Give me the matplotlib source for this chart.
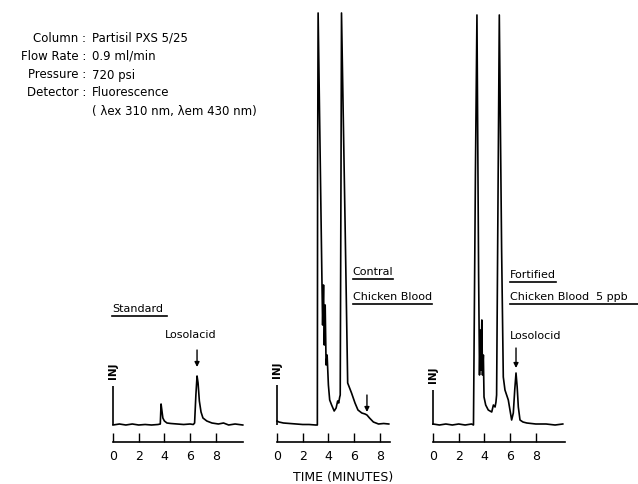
"""
HPLC chromatograms of lasalocid in chicken blood (three traces).
"""

import matplotlib
matplotlib.use('Agg')
import matplotlib.pyplot as plt
from matplotlib.lines import Line2D
from matplotlib.transforms import IdentityTransform

# ---- data (time in minutes, detector response in arbitrary units) ----
std_time = [0, 0.5, 1.0, 1.5, 2.0, 2.5, 3.0, 3.5, 3.68, 3.74, 3.8, 3.88, 4.0, 4.2,
            4.5, 5.0, 5.5, 6.0, 6.25, 6.35, 6.45, 6.54, 6.62, 6.72, 6.85, 7.0,
            7.3, 7.7, 8.2, 8.6, 9.0, 9.5, 10.1]
std_resp = [0, 1, 0, 1, 0, 0.5, 0, 0.5, 1, 21, 15, 7, 4, 2,
            1.5, 1, 0.5, 1, 0.5, 2, 30, 49, 42, 24, 13, 7,
            4, 2, 1, 2, 0, 1, 0]

ctrl_time = [0, 0.15, 0.5, 1.0, 1.5, 2.0, 2.5, 3.0, 3.14, 3.16, 3.2, 3.5, 3.55,
             3.62, 3.68, 3.75, 3.82, 3.9, 4.0, 4.1, 4.25, 4.45, 4.6, 4.72, 4.8,
             4.88, 4.92, 4.98, 5.02, 5.3, 5.5, 5.8, 6.07, 6.3, 6.6, 6.85, 7.0,
             7.2, 7.5, 7.9, 8.3, 8.7]
ctrl_resp = [4, 3, 2, 1.5, 1, 0.5, 0.5, 0, 0, 250, 412, 142, 100,
             140, 80, 120, 60, 70, 40, 25, 20, 14, 17, 24, 22,
             28, 30, 250, 412, 200, 42, 32, 22, 15, 12, 11, 10,
             7, 3, 1, 1.5, 1]

fort_time = [0, 0.5, 1.0, 1.5, 2.0, 2.5, 3.0, 3.15, 3.3, 3.42, 3.55, 3.62, 3.68,
             3.74, 3.8, 3.85, 3.92, 3.97, 4.1, 4.3, 4.57, 4.7, 4.83, 4.9, 4.95,
             5.16, 5.34, 5.47, 5.6, 5.86, 6.12, 6.25, 6.36, 6.46, 6.55, 6.64,
             6.77, 7.0, 7.3, 8.0, 8.8, 9.5, 10.1]
fort_resp = [1, 0, 1, 0, 1, 0, 1, 0, 250, 410, 150, 50, 95,
             55, 105, 50, 70, 28, 20, 15, 13, 20, 18, 23, 30,
             410, 175, 48, 35, 25, 5, 12, 35, 52, 38, 18,
             5, 3, 2, 1, 1, 0, 1]

inj_height = [39, 40, 35]
axis_end = [10.1, 8.8, 10.3]
tick_values = [0, 2, 4, 6, 8]

header_labels = ['Column :', 'Flow Rate :', 'Pressure :', 'Detector :', '']
header_values = ['Partisil PXS 5/25', '0.9 ml/min', '720 psi', 'Fluorescence',
                 '( \u03bbex 310 nm, \u03bbem 430 nm)']

# ---- layout (pixels of the 638x484 picture) ----
W, H = 638, 484
PX_PER_MIN = 12.85
X_MIN, X_MAX = -0.4, 10.6
Y_MIN, Y_MAX = -17, 413

plt.rcParams['font.family'] = ['DejaVu Sans']
fig = plt.figure(figsize=(W / 100, H / 100), dpi=100)


def panel(x0, time, resp, inj, end):
    left = (x0 + X_MIN * PX_PER_MIN) / W
    width = (X_MAX - X_MIN) * PX_PER_MIN / W
    ax = fig.add_axes([left, (H - 442) / H, width, (442 - 12) / H])
    ax.set_facecolor('none')
    ax.plot(time, resp, color='black', lw=1.2)
    ax.vlines(0, 0, inj, color='black', lw=1.2)
    ax.text(0, inj + 7, 'INJ', rotation=90, ha='center', va='bottom',
            fontsize=7.5, fontweight='bold')
    ax.set_xlim(X_MIN, X_MAX)
    ax.set_ylim(Y_MIN, Y_MAX)
    for side in ['left', 'right', 'top']:
        ax.spines[side].set_visible(False)
    ax.spines['bottom'].set_bounds(0, end)
    ax.spines['bottom'].set_linewidth(1.2)
    ax.set_yticks([])
    ax.set_xticks(tick_values)
    ax.set_xticklabels([str(v) for v in tick_values])
    ax.tick_params(axis='x', direction='in', length=6.5, width=1, pad=6,
                   labelsize=9)
    return ax


def underline(txt, extra=0):
    fig.canvas.draw()
    bb = txt.get_window_extent()
    y = bb.y0 - 1.5
    fig.add_artist(Line2D([bb.x0, bb.x1 + extra], [y, y],
                          transform=IdentityTransform(), color='black', lw=1.2))


def arrow(ax, t, r_tip, r_tail):
    ax.annotate('', xy=(t, r_tip), xytext=(t, r_tail),
                arrowprops=dict(arrowstyle='-|>', lw=1, color='black',
                                mutation_scale=7, shrinkA=0, shrinkB=0))


ax1 = panel(113, std_time, std_resp, inj_height[0], axis_end[0])
ax2 = panel(277, ctrl_time, ctrl_resp, inj_height[1], axis_end[1])
ax3 = panel(433, fort_time, fort_resp, inj_height[2], axis_end[2])

# panel 1 labels
t_std = ax1.text(-0.08, 116, 'Standard', fontsize=8, va='center', ha='left')
ax1.text(4.05, 90, 'Losolacid', fontsize=8, va='center', ha='left')
arrow(ax1, 6.54, 58, 75)

# panel 2 labels
t_ctrl = ax2.text(5.9, 153, 'Contral', fontsize=8, va='center', ha='left')
t_cb = ax2.text(5.9, 128, 'Chicken Blood', fontsize=8, va='center', ha='left')
arrow(ax2, 7.0, 13, 30)

# panel 3 labels
t_fort = ax3.text(6.0, 150, 'Fortified', fontsize=8, va='center', ha='left')
t_cb5 = ax3.text(6.0, 128, 'Chicken Blood  5 ppb', fontsize=8, va='center', ha='left')
ax3.text(6.0, 89, 'Losolocid', fontsize=8, va='center', ha='left')
arrow(ax3, 6.46, 57, 77)

underline(t_std, 4)
underline(t_ctrl)
underline(t_cb)
underline(t_fort)
underline(t_cb5, 10)

# conditions block
rows_y = [38, 56, 75, 93, 111]
for lab, val, y in zip(header_labels, header_values, rows_y):
    fig.text(86 / W, 1 - y / H, lab, ha='right', va='center', fontsize=8.5)
    fig.text(92 / W, 1 - y / H, val, ha='left', va='center', fontsize=8.5)

fig.text(343 / W, 1 - 477 / H, 'TIME (MINUTES)', ha='center', va='center',
         fontsize=9)

fig.savefig('out.png', dpi=100)
plt.close(fig)
